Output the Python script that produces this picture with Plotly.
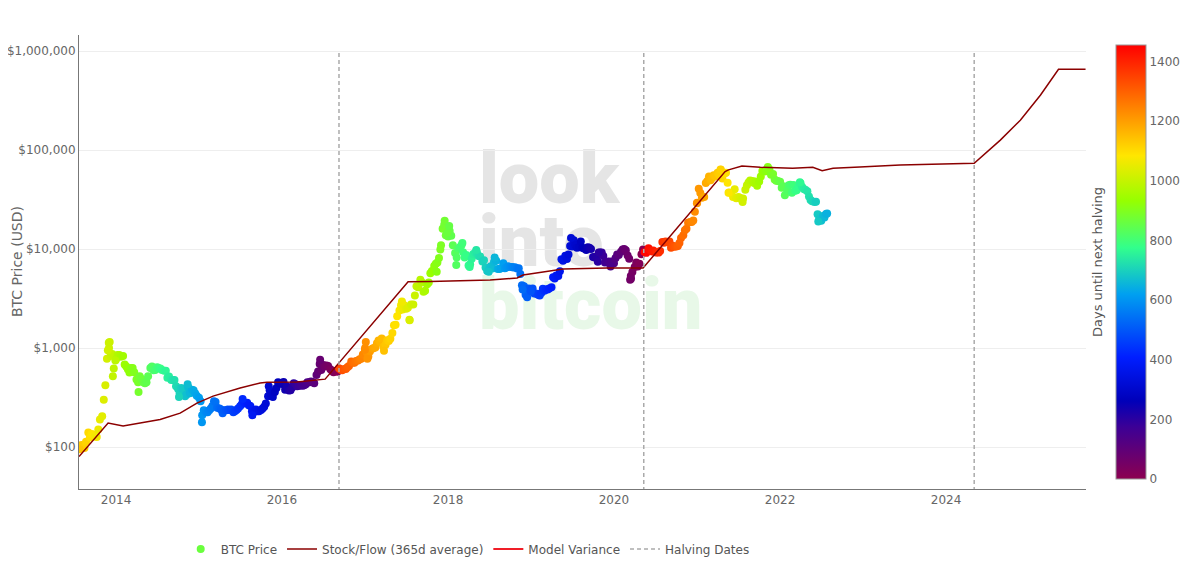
import base64
import pandas as pd
import plotly.graph_objects as go

# halving dates as used by the chart (colour + dashed lines)
halving_dates = ["2012-11-28", "2016-09-08", "2020-05-11", "2024-05-04"]

# weekly-ish BTC price samples (1st, 8th, 15th, 22nd of each month)
sample_days = [1, 8, 15, 22]
btc_2013 = [  # Aug - Dec
    105, 103, 98, 113,
    140, 125, 135, 134,
    128, 126, 150, 190,
    205, 300, 420, 780,
    1000, 830, 870, 620,
]
btc_2014 = [
    770, 850, 850, 815,
    830, 680, 650, 610,
    565, 630, 630, 570,
    480, 450, 520, 490,
    450, 440, 450, 520,
    630, 650, 595, 600,
    640, 625, 620, 600,
    590, 590, 500, 515,
    475, 475, 475, 410,
    385, 350, 395, 385,
    325, 340, 400, 350,
    380, 375, 350, 330,
]
btc_2015 = [
    315, 290, 210, 235,
    225, 225, 235, 245,
    260, 290, 285, 250,
    245, 240, 220, 235,
    235, 240, 237, 240,
    225, 230, 236, 245,
    258, 270, 285, 277,
    280, 265, 260, 230,
    228, 240, 230, 230,
    237, 245, 255, 275,
    325, 375, 330, 320,
    360, 395, 450, 440,
]
btc_2016 = [
    434, 455, 380, 410,
    372, 375, 400, 440,
    430, 412, 415, 418,
    417, 420, 430, 450,
    450, 460, 455, 440,
    535, 580, 690, 600,
    675, 650, 665, 660,
    610, 590, 570, 585,
    575, 625, 608, 595,
    615, 615, 640, 660,
    730, 710, 710, 740,
    750, 770, 780, 860,
]
btc_2017 = [
    1000, 900, 820, 920,
    985, 1000, 1010, 1120,
    1190, 1150, 1250, 1030,
    1080, 1200, 1180, 1240,
    1420, 1700, 1720, 2100,
    2400, 2700, 2450, 2700,
    2500, 2550, 1930, 2750,
    2750, 3400, 4200, 4100,
    4900, 4600, 3700, 3800,
    4400, 4600, 5700, 6000,
    6750, 7100, 7300, 8100,
    10900, 16000, 17600, 13800,
]
btc_2018 = [
    13400, 15200, 13600, 10900,
    9100, 8200, 10100, 10400,
    10900, 9300, 8200, 8700,
    6800, 7000, 8000, 8900,
    9200, 9200, 8500, 8400,
    7500, 7700, 6500, 6000,
    6350, 6700, 6350, 7400,
    7600, 6300, 6300, 6400,
    7200, 6400, 6500, 6700,
    6600, 6600, 6500, 6550,
    6350, 6400, 5600, 4300,
    4200, 3450, 3250, 4000,
]
btc_2019 = [
    3850, 4000, 3550, 3550,
    3450, 3400, 3600, 3980,
    3800, 3900, 3900, 4000,
    4100, 5200, 5050, 5400,
    5350, 5950, 7900, 7600,
    8550, 7950, 8800, 10700,
    10600, 12300, 10900, 10300,
    10400, 11900, 10300, 10100,
    9750, 10400, 10300, 10000,
    8300, 8200, 8350, 7450,
    9200, 9200, 8500, 7300,
    7400, 7500, 7100, 7500,
]
btc_2020 = [
    7200, 8100, 8800, 8700,
    9400, 9900, 10000, 9700,
    8600, 8000, 5350, 5850,
    6600, 7300, 6650, 7100,
    8850, 9900, 9300, 9150,
    10200, 9700, 9450, 9650,
    9250, 9250, 9200, 9550,
    11800, 11600, 11900, 11700,
    11900, 10300, 10800, 10550,
    10600, 10700, 11500, 12900,
    13800, 15500, 16000, 18400,
    18800, 18700, 19400, 23800,
]
btc_2021 = [
    29400, 40700, 36800, 33000,
    33500, 46400, 48700, 54100,
    49600, 52300, 55600, 54500,
    59000, 56000, 63100, 51700,
    57800, 58900, 46700, 37300,
    36700, 33500, 40200, 32500,
    33600, 32900, 31800, 32300,
    39800, 44000, 47000, 49300,
    48800, 46400, 48100, 43600,
    48200, 53900, 61500, 60700,
    61000, 67500, 63500, 56300,
    57200, 50400, 48900, 48600,
]
btc_2022 = [  # Jan - Jul
    47700, 41600, 43000, 35000,
    38700, 44000, 44500, 37000,
    44400, 38700, 39300, 42400,
    46300, 42300, 40500, 39700,
    38400, 34000, 31300, 30300,
    29800, 30100, 22500, 20000,
    19300, 21600, 20800, 22600,
]

# extra daily closes around peaks / crashes (first one sits before the visible range)
extra_dates = [
    "2010-07-18", "2013-07-25", "2013-11-26", "2013-11-30", "2013-12-04", "2013-12-18",
    "2013-12-29", "2014-04-10", "2014-10-05", "2014-11-12", "2015-01-14", "2015-07-12",
    "2015-08-24", "2015-11-04", "2016-06-17", "2016-12-31", "2017-01-04", "2017-01-11",
    "2017-03-25", "2017-06-12", "2017-07-16", "2017-11-12", "2017-11-28", "2017-12-17",
    "2017-12-29", "2018-01-06", "2018-02-06", "2018-03-05", "2018-04-06", "2018-05-05",
    "2018-06-29", "2018-07-25", "2018-11-25", "2018-12-31", "2019-06-26", "2019-10-26",
    "2019-12-17", "2020-03-12", "2020-03-16", "2020-12-31", "2021-04-14", "2021-05-19",
    "2021-07-20", "2021-11-10", "2022-03-29", "2022-06-18", "2022-07-27",
]
extra_prices = [
    0.09, 95, 950, 1130, 1150, 520,
    750, 360, 320, 430, 178, 305,
    210, 410, 760, 960, 1150, 780,
    940, 2950, 1910, 5900, 9900, 19300,
    14600, 17100, 6900, 11500, 6600, 9800,
    5900, 8200, 3900, 3750, 12900, 9250,
    6650, 4900, 5000, 29000, 63500, 37000,
    29800, 65000, 47400, 19000, 22900,
]

s2f_dates = [
    "2013-07-22", "2013-11-27", "2014-02-01", "2014-07-14", "2014-10-10", "2014-12-23",
    "2015-03-04", "2015-07-01", "2015-09-27", "2015-10-27", "2016-03-07", "2016-05-16",
    "2016-07-09", "2017-07-09", "2017-10-14", "2018-07-05", "2018-11-01", "2018-11-27",
    "2019-05-22", "2019-12-01", "2020-05-08", "2021-05-04", "2021-05-19", "2021-07-17",
    "2021-10-06", "2022-02-25", "2022-05-25", "2022-07-05", "2022-08-22", "2022-12-18",
    "2023-06-13", "2024-05-04", "2024-08-27", "2024-11-23", "2025-02-20", "2025-05-10",
    "2025-09-06",
]
s2f_values = [
    80, 175, 163, 190, 220, 278,
    327, 395, 443, 450, 455, 475,
    485, 4680, 4700, 4870, 5100, 5470,
    6300, 6430, 6430, 60600, 63000, 69000,
    66900, 65300, 66900, 61800, 65300, 67500,
    70800, 73500, 126000, 200000, 360000, 653000,
    653000,
]

y_tick_vals = [100, 1000, 10000, 100000, 1000000]
y_tick_text = ["$100", "$1,000", "$10,000", "$100,000", "$1,000,000"]
cbar_ticks = [0, 200, 400, 600, 800, 1000, 1200, 1400]

# assemble weekly samples
year_blocks = [
    (2013, range(8, 13), btc_2013), (2014, range(1, 13), btc_2014), (2015, range(1, 13), btc_2015),
    (2016, range(1, 13), btc_2016), (2017, range(1, 13), btc_2017), (2018, range(1, 13), btc_2018),
    (2019, range(1, 13), btc_2019), (2020, range(1, 13), btc_2020), (2021, range(1, 13), btc_2021),
    (2022, range(1, 8), btc_2022),
]
price_dates = list(extra_dates[:1])
price_usd = list(extra_prices[:1])
for yr, months, vals in year_blocks:
    ds = [f"{yr}-{m:02d}-{d:02d}" for m in months for d in sample_days]
    assert len(ds) == len(vals), yr
    price_dates += ds
    price_usd += vals
price_dates += extra_dates[1:]
price_usd += extra_prices[1:]

# days until next halving for each price point
halv = pd.to_datetime(halving_dates)
days_left = []
for d in pd.to_datetime(price_dates):
    nxt = halv[halv > d][0]
    days_left.append((nxt - d).days)

scale = [
    [0.0, "rgb(140,0,80)"], [0.12, "rgb(60,0,150)"], [0.18, "rgb(0,0,185)"],
    [0.28, "rgb(0,30,255)"], [0.426, "rgb(0,160,240)"], [0.533, "rgb(50,255,140)"],
    [0.641, "rgb(150,255,0)"], [0.745, "rgb(255,230,0)"], [0.856, "rgb(255,130,0)"],
    [1.0, "rgb(255,0,0)"],
]

font = "DejaVu Sans, Verdana, sans-serif"

fig = go.Figure()

fig.add_trace(go.Scatter(
    x=price_dates, y=price_usd, mode="markers", name="BTC Price",
    marker=dict(size=8, color=days_left, colorscale=scale, cmin=0, cmax=1455,
                colorbar=dict(tickvals=cbar_ticks, outlinecolor="#999", outlinewidth=1,
                              thickness=30, tickfont=dict(size=12, color="#666", family=font))),
))
fig.add_trace(go.Scatter(
    x=s2f_dates, y=s2f_values, mode="lines", name="Stock/Flow (365d average)",
    line=dict(color="rgb(139,0,0)", width=1.5),
))
fig.add_trace(go.Scatter(
    x=[None], y=[None], mode="lines", name="Model Variance",
    line=dict(color="rgb(240,30,40)", width=2),
))

hx, hy = [], []
for h in halving_dates[1:]:
    hx += [h, h, None]
    hy += [1, 1000000, None]
fig.add_trace(go.Scatter(
    x=hx, y=hy, mode="lines", name="Halving Dates",
    line=dict(color="#aaa", width=1.5, dash="4px,3px"),
))

# watermark
svg = (
    '<svg xmlns="http://www.w3.org/2000/svg" width="260" height="230" viewBox="0 0 260 230">'
    '<g font-family="Roboto, sans-serif" font-weight="900" font-size="72">'
    '<text x="6" y="73" fill="#e5e5e5">look</text>'
    '<text x="6" y="136" fill="#e5e5e5">into</text>'
    '<text x="6" y="199" fill="#e8f8e8">bitcoin</text>'
    '</g></svg>'
)
src = "data:image/svg+xml;base64," + base64.b64encode(svg.encode()).decode()
fig.add_layout_image(dict(
    source=src, xref="paper", yref="paper", x=(473 - 79) / 1007, y=(489 - 130) / 454,
    sizex=260 / 1007, sizey=230 / 454, xanchor="left", yanchor="top",
    sizing="stretch", layer="below",
))

fig.add_annotation(
    text="Days until next halving", xref="paper", yref="paper", x=(1097 - 79) / 1007, y=0.5,
    xanchor="center", yanchor="middle",
    textangle=-90, showarrow=False, font=dict(size=13, color="#555", family=font),
)
fig.add_annotation(
    text="BTC Price (USD)", xref="paper", yref="paper", x=(17 - 79) / 1007, y=0.5,
    xanchor="center", yanchor="middle",
    textangle=-90, showarrow=False, font=dict(size=14, color="#666", family=font),
)

# page is offset by the 8px body margin, so margins are 8px smaller than the picture
fig.update_layout(
    width=1200, height=575,
    margin=dict(l=71, r=122, t=27, b=94, autoexpand=False),
    paper_bgcolor="white", plot_bgcolor="white",
    font=dict(family=font, size=12, color="#666"),
    showlegend=True,
    legend=dict(orientation="h", x=0.101, xanchor="left", y=-0.132, yanchor="middle",
                font=dict(size=12, color="#555")),
    xaxis=dict(type="date", range=["2013-07-22", "2025-09-08"], showgrid=False,
               showline=True, linecolor="#777", linewidth=1, ticks="",
               dtick="M24", tick0="2014-01-01", tickformat="%Y", zeroline=False),
    yaxis=dict(type="log", range=[1.576, 6.162], tickvals=y_tick_vals, ticktext=y_tick_text,
               showgrid=True, gridcolor="#eee", showline=True, linecolor="#777",
               linewidth=1, ticks="", zeroline=False, automargin=False),
)

fig.write_html("out.html")
